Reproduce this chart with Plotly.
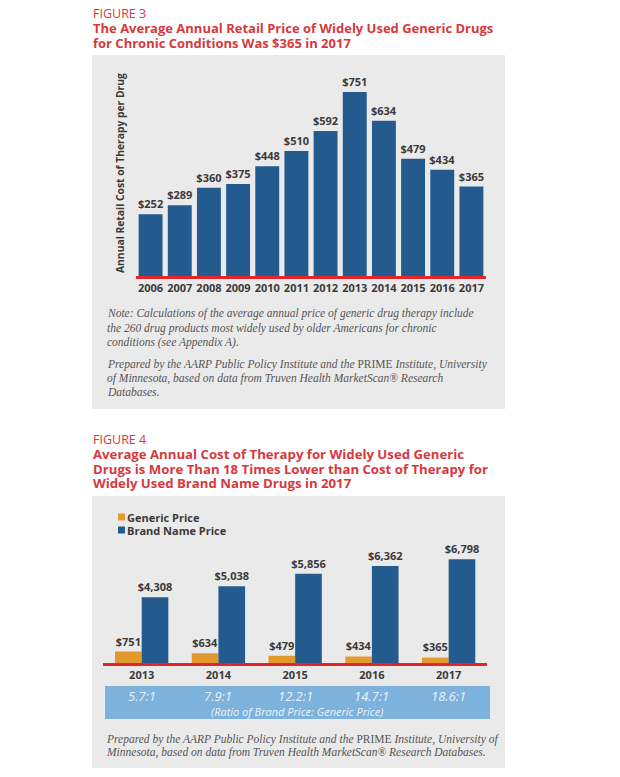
import plotly.graph_objects as go

# ---------------- data ----------------
years3 = ["2006", "2007", "2008", "2009", "2010", "2011",
          "2012", "2013", "2014", "2015", "2016", "2017"]
avg_price = [252, 289, 360, 375, 448, 510, 592, 751, 634, 479, 434, 365]

years4 = ["2013", "2014", "2015", "2016", "2017"]
generic_price = [751, 634, 479, 434, 365]
brand_price = [4308, 5038, 5856, 6362, 6798]
ratios = ["5.7:1", "7.9:1", "12.2:1", "14.7:1", "18.6:1"]
series_names = ["Generic Price", "Brand Name Price"]

# ---------------- style ----------------
W, H = 620, 777
BLUE = "#235b8e"
ORANGE = "#e39a2c"
RED_LINE = "#e3262b"
TITLE_RED = "#d8383d"
GRAY_BG = "#ebeaea"
BAND = "#7db2dc"
TXT = "#3a3a3a"
NOTE = "#555555"
SANS = "Open Sans, Arial, sans-serif"
SERIF = "Liberation Serif, DejaVu Serif, serif"


def px(x):
    return x / W


def py(y):
    return 1 - y / H


fig = go.Figure()

label_font = dict(family=SANS, size=11, color=TXT, weight="bold")

# Figure 3 bars
fig.add_trace(go.Bar(
    x=years3, y=avg_price, xaxis="x", yaxis="y",
    marker=dict(color=BLUE, line=dict(width=0)), width=0.82,
    text=[f"${v:,}" for v in avg_price], textposition="outside", constraintext="none",
    textfont=label_font, cliponaxis=False, showlegend=False,
))

# Figure 4 bars
fig.add_trace(go.Bar(
    x=years4, y=generic_price, xaxis="x2", yaxis="y2", name=series_names[0],
    marker=dict(color=ORANGE, line=dict(width=0)),
    text=[f"${v:,}" for v in generic_price], textposition="outside", constraintext="none",
    textfont=label_font, cliponaxis=False, showlegend=False,
))
fig.add_trace(go.Bar(
    x=years4, y=brand_price, xaxis="x2", yaxis="y2", name=series_names[1],
    marker=dict(color=BLUE, line=dict(width=0)),
    text=[f"${v:,}" for v in brand_price], textposition="outside", constraintext="none",
    textfont=label_font, cliponaxis=False, showlegend=False,
))

shapes = [
    dict(type="rect", xref="paper", yref="paper", x0=px(92), x1=px(505),
         y0=py(55), y1=py(409), fillcolor=GRAY_BG, line=dict(width=0), layer="below"),
    dict(type="rect", xref="paper", yref="paper", x0=px(92), x1=px(505),
         y0=py(496), y1=py(768), fillcolor=GRAY_BG, line=dict(width=0), layer="below"),
    dict(type="rect", xref="paper", yref="paper", x0=px(105), x1=px(490),
         y0=py(686), y1=py(719), fillcolor=BAND, line=dict(width=0), layer="below"),
]

ann = []


def text(x, y, s, size=11, color=TXT, family=SANS, weight="normal", style="normal",
         xanchor="left", angle=0, xref="paper"):
    ann.append(dict(x=x if xref != "paper" else px(x), y=py(y), xref=xref, yref="paper",
                    text=s, showarrow=False, xanchor=xanchor, yanchor="middle",
                    textangle=angle, borderpad=0,
                    font=dict(family=family, size=size, color=color, weight=weight, style=style)))


# Figure 3 header
text(92, 13, "FIGURE 3", size=12.5, color=TITLE_RED)
text(92, 28, "The Average Annual Retail Price of Widely Used Generic Drugs", size=13,
     color=TITLE_RED, weight="bold")
text(92, 43, "for Chronic Conditions Was $365 in 2017", size=13, color=TITLE_RED, weight="bold")
text(120, 173, "Annual Retail Cost of Therapy per Drug", size=10.3, weight="bold",
     xanchor="center", angle=-90)

note1 = [
    (314, "<i>Note: Calculations of the average annual price of generic drug therapy include</i>"),
    (328, "<i>the 260 drug products most widely used by older Americans for chronic</i>"),
    (342, "<i>conditions (see Appendix A).</i>"),
    (364, "<i>Prepared by the AARP Public Policy Institute and the </i>PRIME<i> Institute, University</i>"),
    (378, "<i>of Minnesota, based on data from Truven Health MarketScan® Research</i>"),
    (392, "<i>Databases.</i>"),
]
for yy, s in note1:
    text(106, yy, s, size=11.5, color=NOTE, family=SERIF)

# Figure 4 header
text(92, 439, "FIGURE 4", size=12.5, color=TITLE_RED)
text(92, 454, "Average Annual Cost of Therapy for Widely Used Generic", size=13.2,
     color=TITLE_RED, weight="bold")
text(92, 469, "Drugs is More Than 18 Times Lower than Cost of Therapy for", size=13.2,
     color=TITLE_RED, weight="bold")
text(92, 483, "Widely Used Brand Name Drugs in 2017", size=13.2, color=TITLE_RED, weight="bold")

# manual legend
for i, (nm, col) in enumerate(zip(series_names, [ORANGE, BLUE])):
    yy = 517 + i * 13
    shapes.append(dict(type="rect", xref="paper", yref="paper", x0=px(118), x1=px(125),
                       y0=py(yy + 3.5), y1=py(yy - 3.5), fillcolor=col, line=dict(width=0)))
    text(126, yy, nm, size=11, weight="bold")

# ratio band (positions are category indices on the x2 axis)
for i, r in enumerate(ratios):
    text(i, 696, r, size=13, color="#eaf2fa", style="italic", xanchor="center", xref="x2")
text(297, 711, "(Ratio of Brand Price: Generic Price)", size=11, color="#eaf2fa",
     style="italic", xanchor="center")

text(105, 739, "<i>Prepared by the AARP Public Policy Institute and the </i>PRIME<i> Institute, University of</i>",
     size=11.5, color=NOTE, family=SERIF)
text(105, 752, "<i>Minnesota, based on data from Truven Health MarketScan® Research Databases.</i>",
     size=11.5, color=NOTE, family=SERIF)

axis_common = dict(showgrid=False, zeroline=False, ticks="", fixedrange=True, automargin=False)

fig.update_layout(
    width=W, height=H, autosize=False,
    margin=dict(l=0, r=0, t=0, b=0, pad=0),
    paper_bgcolor="white", plot_bgcolor="rgba(0,0,0,0)",
    barmode="group", bargap=0.305, bargroupgap=0,
    showlegend=False,
    xaxis=dict(type="category", domain=[px(136), px(486)], anchor="y", showline=True,
               range=[-0.5, len(years3) - 0.5],
               linecolor=RED_LINE, linewidth=3,
               tickfont=dict(family=SANS, size=11, color=TXT, weight="bold"), **axis_common),
    yaxis=dict(domain=[py(276), py(70)], anchor="x", range=[0, 840.8], showticklabels=False,
               showline=False, **axis_common),
    xaxis2=dict(type="category", domain=[px(103.3), px(487)], anchor="y2", showline=True,
                range=[-0.5, len(years4) - 0.5],
                linecolor=RED_LINE, linewidth=3,
                tickfont=dict(family=SANS, size=11, color=TXT, weight="bold"), **axis_common),
    yaxis2=dict(domain=[py(663), py(545)], anchor="x2", range=[0, 7738], showticklabels=False,
                showline=False, **axis_common),
    shapes=shapes,
    annotations=ann,
)

fig.write_html("out.html", config={"displayModeBar": False},
               post_script="document.body.style.margin='0';")
